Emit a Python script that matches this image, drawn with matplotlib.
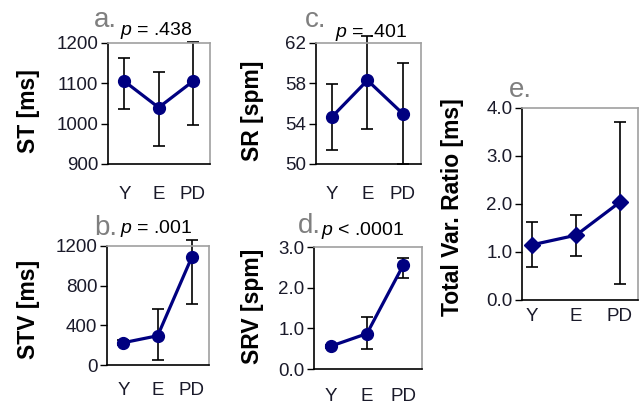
import matplotlib
matplotlib.use("Agg")
import matplotlib.pyplot as plt
from matplotlib.ticker import FormatStrFormatter

plt.rcParams['font.family'] = ['Liberation Sans', 'DejaVu Sans']
plt.rcParams['mathtext.fontset'] = 'custom'
plt.rcParams['mathtext.it'] = 'Liberation Sans:italic'
plt.rcParams['mathtext.rm'] = 'Liberation Sans'

# data
groups = ['Y', 'E', 'PD']

st_mean = [1105, 1040, 1105]
st_lo = [1036, 945, 997]
st_hi = [1163, 1127, 1203]

sr_mean = [54.7, 58.3, 55.0]
sr_lo = [51.4, 53.5, 50.0]
sr_hi = [57.9, 62.7, 60.0]

stv_mean = [225, 295, 1090]
stv_lo = [200, 55, 620]
stv_hi = [250, 560, 1260]

srv_mean = [0.56, 0.87, 2.55]
srv_lo = [0.52, 0.50, 2.25]
srv_hi = [0.60, 1.28, 2.73]

tvr_mean = [1.15, 1.35, 2.04]
tvr_lo = [0.68, 0.91, 0.34]
tvr_hi = [1.63, 1.77, 3.71]

W, H = 642, 407
fig = plt.figure(figsize=(W / 100, H / 100), dpi=100)

NAVY = '#000080'
TICKC = '#1a1a2a'


def px_axes(l, t, r, b):
    return fig.add_axes([l / W, 1 - b / H, (r - l) / W, (b - t) / H])


def panel(ax, mean, lo, hi, ylim, yticks, fmt, xlim, xpad, marker='o', ms=8.5):
    x = list(range(len(groups)))
    yerr = [[m - l for m, l in zip(mean, lo)], [h - m for m, h in zip(mean, hi)]]
    ax.errorbar(x, mean, yerr=yerr, fmt='none', ecolor='black', elinewidth=1.2,
                capsize=4, capthick=1.2, clip_on=False, zorder=2)
    ax.plot(x, mean, color=NAVY, lw=2.3, marker=marker, ms=ms, clip_on=False, zorder=3)
    ax.set_xlim(*xlim)
    ax.set_ylim(*ylim)
    ax.set_yticks(yticks)
    ax.yaxis.set_major_formatter(FormatStrFormatter(fmt))
    ax.set_xticks(x)
    ax.set_xticklabels(groups)
    ax.tick_params(axis='x', length=0, pad=xpad, labelsize=13.5, labelcolor=TICKC)
    ax.tick_params(axis='y', length=5, width=1, direction='out', pad=2,
                   labelsize=13.5, labelcolor=TICKC)
    for s in ['top', 'right']:
        ax.spines[s].set_color('#a0a0a0')
    for s in ['left', 'bottom']:
        ax.spines[s].set_color('black')
    for s in ax.spines.values():
        s.set_linewidth(1.2)


def label(x, y, s, **kw):
    fig.text(x / W, 1 - y / H, s, **kw)


def ylab(x, y, s):
    fig.text(x / W, 1 - y / H, s, rotation=90, ha='center', va='center',
             fontsize=16.5, fontweight='bold')


ax_a = px_axes(108, 43, 210, 164)
panel(ax_a, st_mean, st_lo, st_hi, (900, 1200), [900, 1000, 1100, 1200], '%d',
      (-0.48, 2.5), 16)
ax_c = px_axes(316, 43, 421, 164)
panel(ax_c, sr_mean, sr_lo, sr_hi, (50, 62), [50, 54, 58, 62], '%d',
      (-0.46, 2.52), 16)
ax_b = px_axes(107, 246, 209, 365)
panel(ax_b, stv_mean, stv_lo, stv_hi, (0, 1200), [0, 400, 800, 1200], '%d',
      (-0.48, 2.5), 12)
ax_d = px_axes(314, 247, 422, 369)
panel(ax_d, srv_mean, srv_lo, srv_hi, (0, 3), [0, 1, 2, 3], '%.1f',
      (-0.46, 2.52), 14)
ax_e = px_axes(522, 108, 638, 300)
panel(ax_e, tvr_mean, tvr_lo, tvr_hi, (0, 4), [0, 1, 2, 3, 4], '%.1f',
      (-0.23, 2.41), 6, marker='D', ms=8)

ylab(28, 111, 'ST [ms]')
ylab(28, 309, 'STV [ms]')
ylab(253, 111, 'SR [spm]')
ylab(253, 306, 'SRV [spm]')
ylab(453, 207, 'Total Var. Ratio [ms]')

GRAY = '#7f7f7f'
label(94, 27, 'a.', fontsize=20, color=GRAY, va='baseline')
label(94, 235, 'b.', fontsize=20, color=GRAY, va='baseline')
label(305, 27, 'c.', fontsize=20, color=GRAY, va='baseline')
label(298, 233, 'd.', fontsize=20, color=GRAY, va='baseline')
label(509, 97, 'e.', fontsize=20, color=GRAY, va='baseline')

label(120, 35, r'$p$ = .438', fontsize=14, va='baseline')
label(120, 233, r'$p$ = .001', fontsize=14, va='baseline')
label(335, 37, r'$p$ = .401', fontsize=14, va='baseline')
label(321, 235, r'$p$ < .0001', fontsize=14, va='baseline')

fig.savefig('out.png', dpi=100)
